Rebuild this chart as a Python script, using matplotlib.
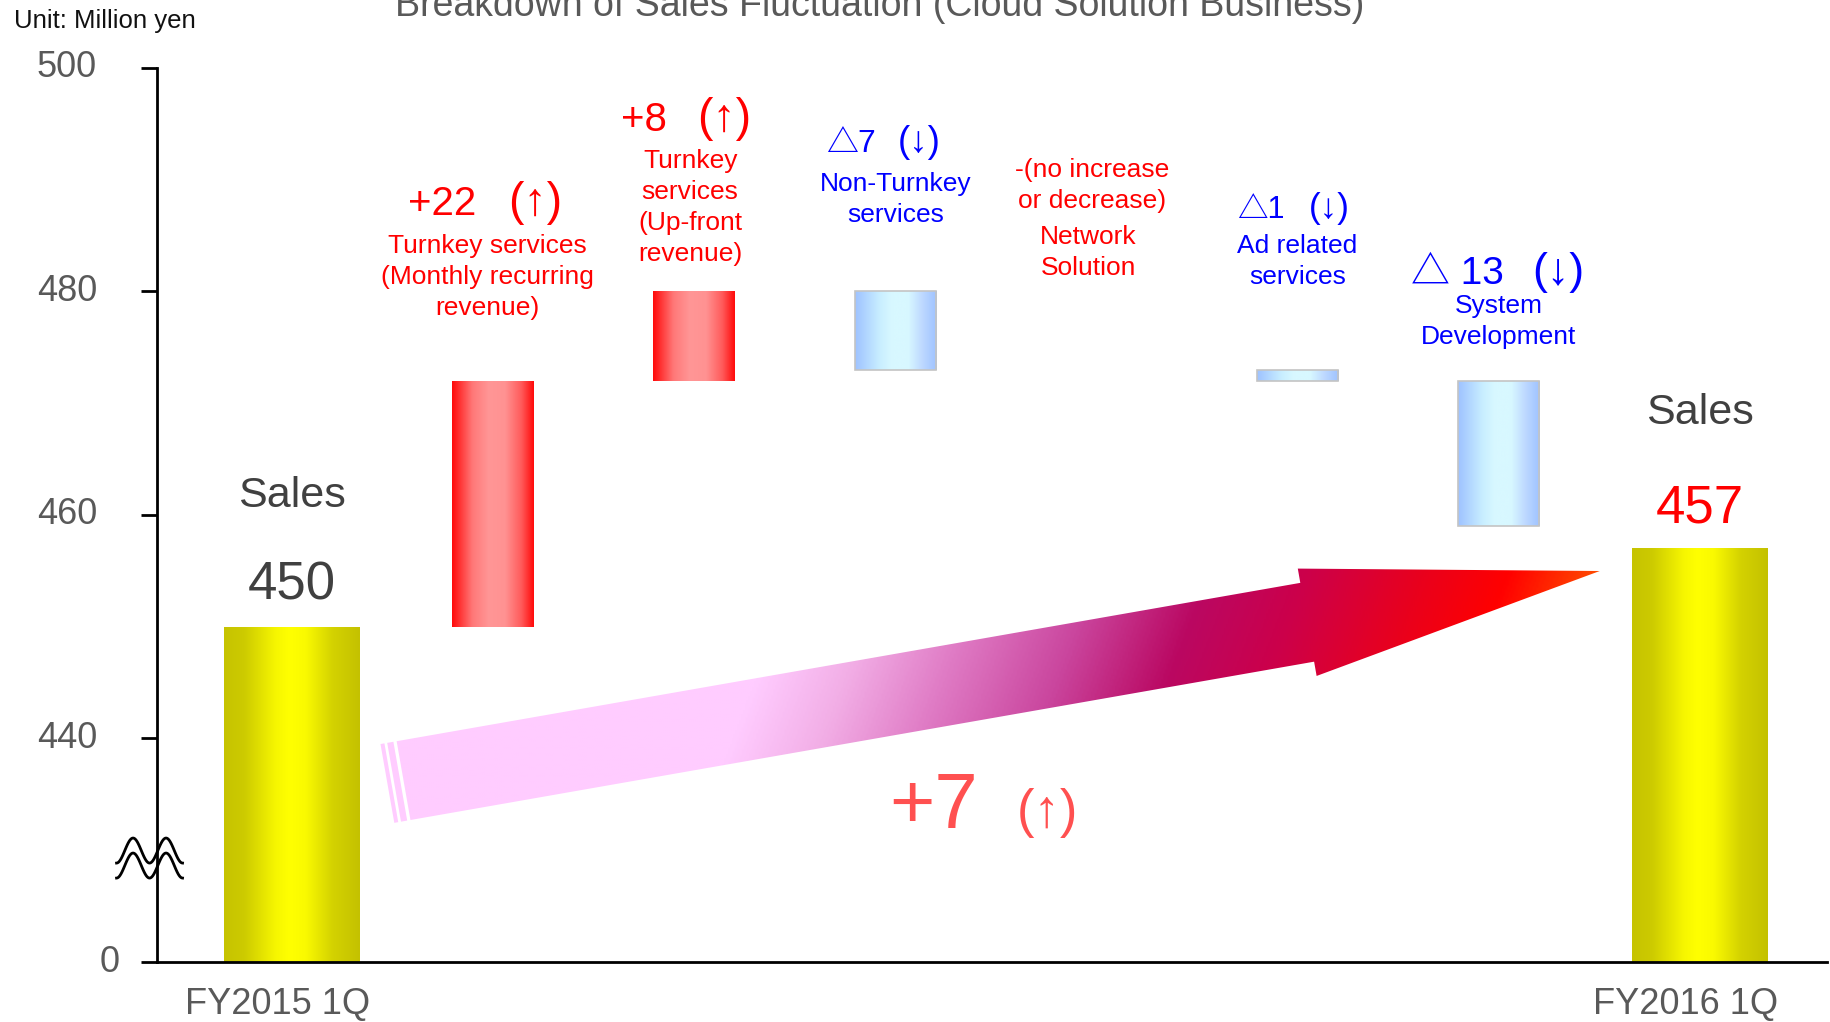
import numpy as np
import matplotlib
matplotlib.use("Agg")
import matplotlib.pyplot as plt
from matplotlib.colors import LinearSegmentedColormap
from matplotlib.patches import Polygon
from matplotlib.lines import Line2D
from matplotlib.transforms import ScaledTranslation

plt.rcParams["font.family"] = ["Liberation Sans", "DejaVu Sans"]
HEAD_FONT = ["Liberation Sans", "Noto Sans CJK JP", "DejaVu Sans"]

# ---- data -------------------------------------------------------------
periods = ["FY2015 1Q", "FY2016 1Q"]
sales = [450, 457]                      # million yen
items = [
    "Turnkey services\n(Monthly recurring\nrevenue)",
    "Turnkey\nservices\n(Up-front\nrevenue)",
    "Non-Turnkey\nservices",
    "Network\nSolution",
    "Ad related\nservices",
    "System\nDevelopment",
]
changes = [22, 8, -7, 0, -1, -13]
y_ticks = [420, 440, 460, 480, 500]      # lowest tick sits at the axis break
y_tick_labels = ["0", "440", "460", "480", "500"]
axis_floor = 420

title = "Breakdown of Sales Fluctuation (Cloud Solution Business)"
unit_text = "Unit: Million yen"

# ---- style ------------------------------------------------------------
RED, BLUE = "#FF0000", "#0000FF"
GREY, DARK = "#595959", "#404040"

yellow_cmap = LinearSegmentedColormap.from_list("yel", [
    (0.0, "#C6C300"), (0.15, "#CDCB00"), (0.38, "#F6F600"), (0.48, "#FFFF00"),
    (0.6, "#FAFA00"), (0.8, "#D4D200"), (1.0, "#C4C100")])
red_cmap = LinearSegmentedColormap.from_list("red", [
    (0.0, "#FF0A0A"), (0.25, "#FF7878"), (0.45, "#FF9696"), (0.65, "#FF9292"),
    (0.85, "#FF5A5A"), (1.0, "#FF0A0A")])
blue_cmap = LinearSegmentedColormap.from_list("blue", [
    (0.0, "#9EC2FF"), (0.3, "#C8EEFF"), (0.45, "#D8F8FF"), (0.65, "#D8F8FF"),
    (0.82, "#BED9FF"), (1.0, "#9EC2FF")])
arrow_cmap = LinearSegmentedColormap.from_list("arr", [
    (0.0, "#FFCCFF"), (0.28, "#FFCCFF"), (0.36, "#F2AEE6"), (0.45, "#DF7AC4"),
    (0.55, "#CA469E"), (0.65, "#BA0862"), (0.74, "#CC004A"), (0.84, "#E8001E"),
    (0.92, "#FF0000"), (1.0, "#FF4A00")])

fig = plt.figure(figsize=(18.31, 10.22), dpi=100)
ax = fig.add_axes([0.0855, 0.0587, 0.9123, 0.875])
XLIM = (-0.673, 7.632)
YLIM = (axis_floor, 500)


def gradient_bar(patch, cmap, z):
    x0, y0 = patch.get_x(), patch.get_y()
    w, h = patch.get_width(), patch.get_height()
    grad = np.linspace(0, 1, 256)[None, :]
    im = ax.imshow(grad, cmap=cmap, extent=[x0, x0 + w, y0, y0 + h],
                   aspect="auto", interpolation="bicubic", zorder=z)
    im.set_clip_path(patch)


# ---- totals -----------------------------------------------------------
total_x = [0, len(changes) + 1]
totals = ax.bar(total_x, [s - axis_floor for s in sales], bottom=axis_floor,
                width=0.675, facecolor="none", edgecolor="none", zorder=3)
for p in totals:
    gradient_bar(p, yellow_cmap, 2.5)

# ---- changes (waterfall) ---------------------------------------------
level = sales[0]
bottoms, heights = [], []
for c in changes:
    bottoms.append(min(level, level + c))
    heights.append(abs(c))
    level += c
change_x = np.arange(1, len(changes) + 1)
for x, b, h, c in zip(change_x, bottoms, heights, changes):
    if c == 0:
        continue
    if c > 0:
        bar = ax.bar(x, h, bottom=b, width=0.405, facecolor="none",
                     edgecolor="none", zorder=3)[0]
        gradient_bar(bar, red_cmap, 2.5)
    else:
        bar = ax.bar(x, h, bottom=b, width=0.405, facecolor="none",
                     edgecolor="#C4C4C4", linewidth=1.2, zorder=3)[0]
        gradient_bar(bar, blue_cmap, 2.5)

# ---- big trend arrow (drawn in axes pixel space) ----------------------
fig.canvas.draw()
bb = ax.get_window_extent()
AW, AH = bb.width, bb.height
tail = np.array([247.0, 181.4])
tip = np.array([1443.2, 391.0])
shaft_hw, head_hw, head_len = 40.0, 54.5, 297.0
d = tip - tail
L = np.hypot(*d)
u = d / L
n = np.array([-u[1], u[0]])
base = tip - u * head_len
pts = [tail + n * shaft_hw, base + n * shaft_hw, base + n * head_hw, tip,
       base - n * head_hw, base - n * shaft_hw, tail - n * shaft_hw]
pts = np.array(pts) / [AW, AH]
arrow = Polygon(pts, closed=True, transform=ax.transAxes,
                facecolor="none", edgecolor="none", zorder=1)
ax.add_patch(arrow)

g_ang = np.deg2rad(-21)
g = np.array([np.cos(g_ang), np.sin(g_ang)])
ny, nx = 450, 900
gx = (np.arange(nx) + 0.5) / nx * AW
gy = (np.arange(ny) + 0.5) / ny * AH
GX, GY = np.meshgrid(gx, gy)
proj = (GX - tail[0]) * g[0] + (GY - tail[1]) * g[1]
s_tip = (tip - tail) @ g
S = np.clip(proj / s_tip, 0, 1)
im = ax.imshow(S, cmap=arrow_cmap, extent=[0, 1, 0, 1], origin="lower",
               transform=ax.transAxes, aspect="auto", interpolation="bilinear",
               zorder=1)
im.set_clip_path(arrow)

for s0, s1 in [(-9.6, -3.3), (-16.4, -12.4)]:
    a, b = tail + u * s0, tail + u * s1
    strip = np.array([a + n * shaft_hw, b + n * shaft_hw,
                      b - n * shaft_hw, a - n * shaft_hw]) / [AW, AH]
    ax.add_patch(Polygon(strip, closed=True, transform=ax.transAxes,
                         facecolor="#FFCCFF", edgecolor="none", zorder=1))

# ---- axes -------------------------------------------------------------
ax.set_xlim(*XLIM)
ax.set_ylim(*YLIM)
for side in ("top", "right"):
    ax.spines[side].set_visible(False)
for side in ("left", "bottom"):
    ax.spines[side].set_linewidth(2.0)
    ax.spines[side].set_color("black")
ax.set_yticks(y_ticks)
ax.set_yticklabels([])
ax.tick_params(axis="y", direction="out", length=11.5, width=2.0)
ax.set_xticks([])

ytrans = ax.get_yaxis_transform()
for v, lab in zip(y_ticks, y_tick_labels):
    off = -0.365 if v == axis_floor else -0.595
    ax.text(0, v, lab, transform=ytrans + ScaledTranslation(off, 0, fig.dpi_scale_trans),
            ha="right", va="center", fontsize=26, color=GREY)

xtrans = ax.get_xaxis_transform()
for x, lab in zip(total_x, periods):
    ax.text(x, 0, lab, transform=xtrans + ScaledTranslation(-0.14, -0.42, fig.dpi_scale_trans),
            ha="center", va="center", fontsize=26, color=GREY, clip_on=False)

# axis-break mark on the y axis
t = np.linspace(0, 1, 120)
wx = -0.40 + 0.66 * t
for low in (-0.05, -0.20):
    wy = low + 0.25 * np.sin(2 * np.pi * t) ** 2
    ax.add_line(Line2D(wx, wy, color="black", linewidth=2.0, clip_on=False,
                       transform=fig.dpi_scale_trans
                       + ScaledTranslation(0, 429.3, ytrans), zorder=5))

# ---- texts ------------------------------------------------------------
fig.text(0.4806, 0.984, title, ha="center", va="baseline", fontsize=27,
         color=GREY)
fig.text(0.0076, 0.9726, unit_text, ha="left", va="baseline", fontsize=18.5,
         color="#111111")

# totals
ax.text(total_x[0], 461.7, "Sales", ha="center", va="center", fontsize=31,
        color=DARK)
ax.text(total_x[0], 453.7, f"{sales[0]}", ha="center", va="center",
        fontsize=38, color=DARK)
ax.text(total_x[1], 469.1, "Sales", ha="center", va="center", fontsize=31,
        color=DARK)
ax.text(total_x[1], 460.6, f"{sales[1]}", ha="center", va="center",
        fontsize=38, color=RED)

# change headlines: value (right-aligned) + arrow in parentheses (left-aligned)
head_y = [488.1, 495.6, 493.5, 489.5, 487.5, 481.9]
value_right = [-0.083, -0.137, -0.098, -0.02, -0.067, 0.024]
paren_left = [0.074, 0.014, 0.012, 0.0, 0.055, 0.169]
head_size = [29, 29, 23, 19, 22, 28]
desc_pos = [(-0.03, 481.3), (-0.02, 487.5), (0.0, 488.2), (-0.04, 483.5),
            (0.0, 482.7), (0.0, 477.3)]
for i, (x, c, name) in enumerate(zip(change_x, changes, items)):
    hs, hy = head_size[i], head_y[i]
    if c == 0:
        col = RED
        ax.text(x + value_right[i], hy, "-(no increase\nor decrease)",
                ha="center", va="center", fontsize=hs, color=col,
                linespacing=1.36)
    else:
        if c > 0:
            val, arr, col = f"+{c}", "(↑)", RED
        else:
            gap = " " if abs(c) >= 10 else ""
            val, arr, col = f"△{gap}{abs(c)}", "(↓)", BLUE
        shift = ax.transData + ScaledTranslation(0, -hs * 0.36 / 72, fig.dpi_scale_trans)
        ax.text(x + value_right[i], hy, val, ha="right", va="baseline",
                fontsize=hs, color=col, family=HEAD_FONT, transform=shift)
        ax.text(x + paren_left[i], hy, arr, ha="left", va="baseline",
                fontsize=hs * 1.15, color=col, transform=shift)
    ddx, dy = desc_pos[i]
    ax.text(x + ddx, dy, name, ha="center", va="center", fontsize=19,
            color=col, linespacing=1.36)

net = sales[1] - sales[0]
ax.text(3.19, 433.8, f"+{net}", ha="center", va="center", fontsize=56,
        color="#FF5050")
ax.text(3.755, 433.3, "(↑)", ha="center", va="center", fontsize=38,
        color="#FF5050")

fig.savefig("out.png", dpi=100)
